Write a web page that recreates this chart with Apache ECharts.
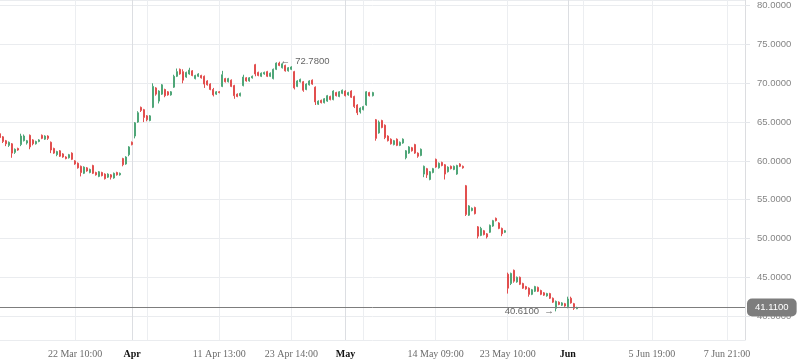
<!DOCTYPE html>
<html><head><meta charset="utf-8">
<script src="https://cdn.jsdelivr.net/npm/echarts@6/dist/echarts.min.js"></script>
<style>html,body{margin:0;padding:0;background:#fff}#c{width:798px;height:363px}</style>
</head><body><div id="c"></div>
<script>
const opens = [
63.5,63.1,62.6,62.0,62.2,61.1,61.6,62.1,62.6,62.3,
63.3,62.7,62.2,62.5,63.3,62.8,63.2,62.4,61.6,60.8,
61.3,60.9,60.5,60.4,61.0,60.0,59.7,59.3,58.4,59.1,
58.5,59.4,58.5,58.0,58.5,58.3,57.9,58.2,57.8,58.5,
58.2,60.3,59.6,60.8,62.4,63.2,65.0,66.9,66.6,65.8,
65.2,66.9,69.4,67.7,68.6,69.2,68.9,68.5,69.5,70.9,
71.8,71.5,70.8,71.2,71.6,70.6,70.9,71.0,70.9,70.3,
69.9,69.2,68.6,68.9,69.6,70.6,70.2,70.4,69.7,68.6,
68.4,69.7,70.7,70.3,70.7,72.4,71.4,70.9,71.2,71.5,
70.9,70.6,71.8,72.6,72.0,72.3,71.6,71.8,71.5,69.6,
70.2,70.2,69.2,69.8,70.4,69.5,67.3,67.8,67.5,67.7,
68.3,67.9,68.8,68.3,68.7,69.0,68.5,69.0,68.3,67.2,
66.3,66.6,67.2,68.8,68.4,65.3,63.6,65.2,64.6,63.2,
62.8,62.1,62.8,62.0,62.3,60.4,61.0,61.7,62.1,61.0,
60.7,58.3,59.0,57.6,58.5,60.2,59.1,59.8,59.5,58.6,
59.3,58.9,58.3,59.6,59.3,56.8,53.0,53.6,54.0,51.5,
50.4,51.0,50.6,50.8,51.6,52.6,52.0,51.3,50.8,45.4,
44.2,45.9,44.4,45.0,44.2,43.8,43.6,42.8,43.2,43.7,
43.3,43.0,42.6,42.9,42.3,41.0,41.8,41.4,41.6,41.2,
42.3,41.6,40.95];
const closes = [
63.0,62.5,62.2,62.4,61.0,61.5,61.4,63.2,63.2,62.6,
61.8,62.2,62.5,62.7,62.9,63.2,62.9,61.4,61.0,61.2,
60.6,60.5,60.3,60.8,60.2,59.6,59.1,58.5,59.2,58.7,
58.9,58.4,58.2,58.6,58.1,57.7,58.3,57.9,58.4,58.2,
58.4,59.5,60.5,61.8,62.1,64.9,66.2,66.5,65.6,65.3,
65.8,69.6,68.6,69.0,69.8,68.4,68.5,68.9,70.9,71.5,
71.2,70.4,71.4,71.7,71.0,71.0,71.2,70.7,69.9,69.8,
69.2,68.5,68.9,68.8,71.1,70.2,70.6,69.6,68.4,68.3,
68.7,70.8,70.3,70.7,70.9,71.2,71.0,71.3,71.4,70.9,
71.3,71.8,72.6,72.3,72.5,71.6,72.0,72.1,69.4,70.3,
70.5,69.1,69.9,70.3,69.9,67.6,67.7,67.5,68.0,68.4,
67.9,69.0,68.4,68.9,69.1,68.4,68.8,68.2,67.0,66.2,
66.8,67.0,68.9,68.4,68.8,62.9,65.0,64.3,63.0,62.6,
62.2,62.6,62.0,62.4,62.8,61.3,61.8,61.3,61.0,60.6,
61.5,59.3,58.2,58.6,59.0,59.2,59.7,59.4,58.3,59.2,
59.0,59.3,59.4,59.3,59.1,53.1,54.2,53.9,53.2,50.3,
51.3,50.5,50.2,51.7,52.3,52.3,51.3,50.6,51.0,43.6,
45.5,44.5,45.0,44.1,43.6,43.5,42.8,43.4,43.8,43.2,
42.8,42.7,42.9,42.3,41.8,41.9,41.5,41.7,41.3,42.2,
41.7,41.0,41.11];
const lows = [
62.9,62.3,61.9,61.8,60.4,60.9,61.3,61.9,62.5,62.1,
61.5,62.0,62.1,62.4,62.8,62.7,62.7,61.0,60.9,60.6,
60.5,60.4,60.2,60.3,60.1,59.5,59.0,58.0,58.3,58.6,
58.4,58.3,58.1,57.9,58.0,57.6,57.8,57.6,57.7,58.1,
58.1,59.3,59.5,60.6,62.0,62.9,64.9,66.3,65.0,65.1,
65.1,66.8,68.4,67.4,68.5,68.2,68.4,68.4,69.4,70.8,
71.1,70.0,70.7,71.1,70.9,70.5,70.8,70.6,69.4,69.7,
69.1,68.3,68.5,68.7,69.5,70.1,70.1,69.5,68.0,68.2,
68.3,69.6,70.2,70.2,70.6,70.9,70.9,70.8,71.1,70.8,
70.8,70.5,71.7,72.2,71.9,71.5,71.5,71.7,69.2,69.5,
70.1,68.9,69.1,69.7,69.8,67.2,67.2,67.4,67.4,67.6,
67.8,67.8,68.3,68.2,68.6,68.3,68.4,68.1,66.8,65.9,
66.1,66.5,67.1,68.3,68.3,62.6,63.5,64.2,62.8,62.5,
62.1,62.0,61.9,61.9,62.2,60.2,60.9,61.2,60.9,60.4,
60.6,57.9,57.8,57.5,58.4,59.1,59.0,59.3,57.6,58.5,
58.9,58.8,58.2,59.2,59.0,52.9,52.9,53.5,53.1,50.0,
50.3,50.4,50.0,50.7,51.5,52.2,51.2,50.3,50.7,42.9,
44.0,44.3,44.3,44.0,43.5,43.4,42.5,42.7,43.1,43.1,
42.7,42.6,42.5,42.2,41.7,40.61,41.4,41.3,41.2,41.0,
41.6,40.8,40.9];
const highs = [
63.6,63.2,62.7,62.5,62.3,61.6,61.7,63.5,63.4,62.7,
63.4,62.8,62.6,62.8,63.4,63.3,63.3,62.5,61.7,61.3,
61.4,61.0,60.6,60.9,61.1,60.1,59.8,59.4,59.3,59.2,
59.0,59.5,58.6,58.7,58.6,58.4,58.4,58.3,58.5,58.6,
58.5,60.4,60.6,61.9,62.5,65.0,66.4,67.0,66.7,65.9,
65.9,70.0,69.5,69.1,69.9,69.3,69.0,69.0,71.1,71.9,
71.9,71.8,71.5,72.0,71.7,71.1,71.3,71.1,71.0,70.4,
70.0,69.4,69.0,69.0,71.6,70.7,70.7,70.5,69.8,68.7,
68.8,71.1,70.8,70.8,71.0,72.5,71.5,71.4,71.5,71.6,
71.4,71.9,72.7,72.78,72.6,72.4,72.1,72.2,71.6,70.4,
70.6,70.3,70.0,70.4,70.5,69.6,67.8,67.9,68.1,68.5,
68.4,69.1,68.9,69.0,69.2,69.1,68.9,69.1,68.4,67.3,
66.9,67.1,69.0,68.9,68.9,65.4,65.2,65.3,64.7,63.3,
62.9,62.7,62.9,62.5,62.9,61.4,61.9,61.8,62.2,61.1,
61.6,59.4,59.1,58.7,59.1,60.3,59.8,59.9,59.6,59.3,
59.4,59.4,59.5,59.7,59.4,56.9,54.3,54.0,54.1,51.6,
51.5,51.1,50.7,51.8,52.4,52.7,52.1,51.4,51.1,45.6,
45.6,46.0,45.1,45.1,44.3,43.9,43.7,43.5,43.9,43.8,
43.4,43.1,43.0,43.0,42.4,42.0,41.9,41.8,41.7,42.5,
42.5,41.7,41.2];

const slotCount = 249;
const tickIndex = [25, 44, 73, 97, 115, 145, 169, 189, 217, 242];
const tickLabels = ['22 Mar 10:00', 'Apr', '11 Apr 13:00', '23 Apr 14:00', 'May', '14 May 09:00', '23 May 10:00', 'Jun', '5 Jun 19:00', '7 Jun 21:00'];
const monthLabels = ['Apr', 'May', 'Jun'];
const extraGridIndex = [49, 121, 194];
const lastPrice = 41.11;
const highMark = { index: 93, value: 72.78 };
const lowMark = { index: 185, value: 40.61 };
const yMin = 36.92, yMax = 80.73;

const categories = Array.from({ length: slotCount }, (_, i) => String(i));
const labelByIndex = {};
tickIndex.forEach((t, k) => { labelByIndex[t] = tickLabels[k]; });
const gridIdx = tickIndex.concat(extraGridIndex).sort((a, b) => a - b);
const gridColors = gridIdx.map(i => monthLabels.includes(labelByIndex[i]) ? '#dcdee2' : '#eceef1');
const candleData = opens.map((o, i) => [o, closes[i], lows[i], highs[i]]);

const chart = echarts.init(document.getElementById('c'), null, { renderer: 'canvas' });
chart.setOption({
  animation: false,
  backgroundColor: '#fff',
  grid: { left: 0, right: 53, top: 0, bottom: 23, containLabel: false, outerBoundsMode: 'none' },
  xAxis: {
    type: 'category',
    data: categories,
    boundaryGap: false,
    axisLine: { show: false },
    axisTick: { show: false },
    axisLabel: {
      interval: (idx) => labelByIndex[idx] !== undefined,
      formatter: (v, idx) => {
        const t = labelByIndex[Number(v)];
        if (t === undefined) return '';
        return monthLabels.includes(t) ? '{b|' + t + '}' : t;
      },
      fontFamily: 'Liberation Serif',
      fontSize: 10,
      color: '#6b6b6b',
      margin: 9,
      rich: { b: { fontFamily: 'Liberation Serif', fontSize: 10, fontWeight: 'bold', color: '#111' } }
    },
    splitLine: {
      show: true,
      interval: (idx) => gridIdx.includes(idx),
      lineStyle: { color: gridColors, width: 1 }
    }
  },
  yAxis: {
    type: 'value',
    position: 'right',
    min: yMin,
    max: yMax,
    splitNumber: 9,
    scale: true,
    axisLine: { show: true, lineStyle: { color: '#dcdde0' } },
    axisTick: { show: true, length: 5, lineStyle: { color: '#e4e6ea' } },
    axisLabel: {
      showMinLabel: false,
      showMaxLabel: false,
      formatter: (v) => v.toFixed(4),
      fontFamily: 'Liberation Sans',
      fontSize: 9.5,
      color: '#858585',
      margin: 12
    },
    splitLine: { show: true, lineStyle: { color: '#eaecef', width: 1 } }
  },
  series: [{
    type: 'candlestick',
    data: candleData,
    barWidth: 1.5,
    itemStyle: {
      color: '#4fa678', color0: '#e24f4f',
      borderColor: '#4fa678', borderColor0: '#e24f4f',
      borderWidth: 1
    },
    markPoint: {
      silent: true,
      symbol: 'circle',
      symbolSize: 0,
      data: [
        { coord: [String(highMark.index), highMark.value],
          label: { show: true, position: 'right', distance: 1, formatter: '\u2190  ' + highMark.value.toFixed(4),
                   color: '#666', fontFamily: 'Liberation Sans', fontSize: 9.5 } },
        { coord: [String(lowMark.index), lowMark.value],
          label: { show: true, position: 'left', distance: 2, formatter: lowMark.value.toFixed(4) + '  \u2192',
                   color: '#666', fontFamily: 'Liberation Sans', fontSize: 9.5 } }
      ]
    },
    markLine: {
      silent: true,
      symbol: ['none', 'none'],
      lineStyle: { color: '#7d7d7d', width: 1, type: 'solid' },
      label: {
        show: true, position: 'end', distance: 2,
        formatter: lastPrice.toFixed(4),
        color: '#fff', backgroundColor: '#7d7d7d',
        padding: [4, 8, 4, 8], borderRadius: 5,
        fontFamily: 'Liberation Sans', fontSize: 9.5
      },
      data: [{ yAxis: lastPrice }]
    }
  }]
});
</script>
</body></html>
